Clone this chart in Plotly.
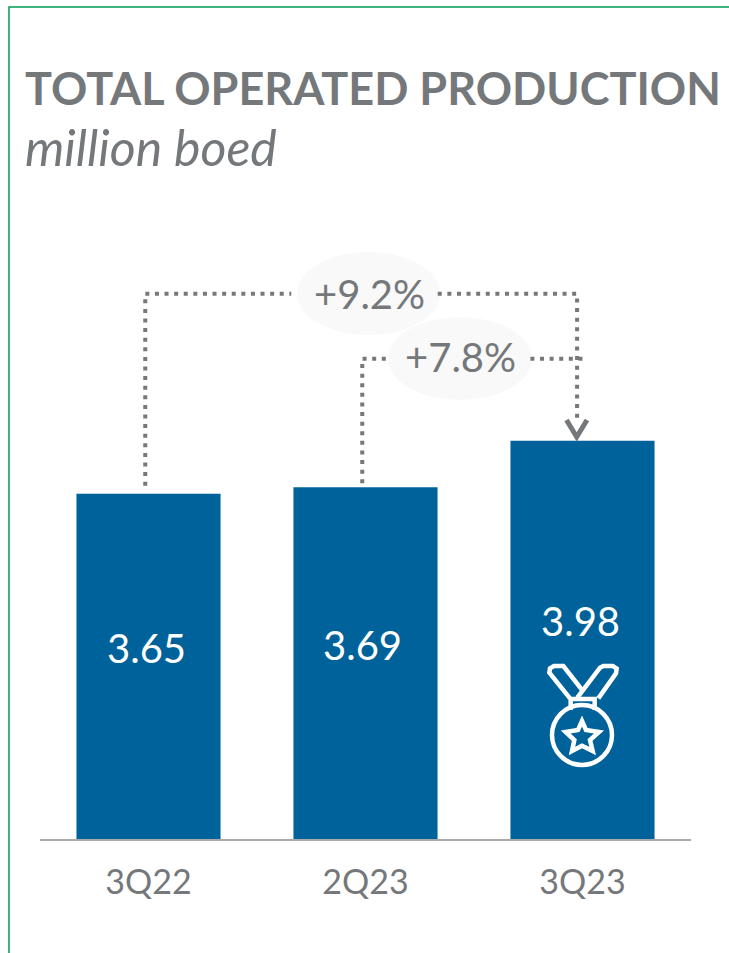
import plotly.graph_objects as go

categories = ["3Q22", "2Q23", "3Q23"]
production = [3.65, 3.69, 3.98]
value_labels = ["3.65", "3.69", "3.98"]
change_labels = ["+9.2%", "+7.8%"]
title_text = "TOTAL OPERATED PRODUCTION"
subtitle_text = "million boed"

W, H = 729, 953
L, R, T, B = 40, 38, 200, 114
PW, PH = W - L - R, H - T - B
Y0, YSCALE = 1.5, 160.6
GREY = "#75787b"
BLUE = "#00629a"
FONT = "Lato"


def fx(p):
    return (p - L) / PW


def fy(p):
    return (H - B - p) / PH


def path(points, close=False):
    s = "M " + " L ".join(f"{fx(x):.5f},{fy(y):.5f}" for x, y in points)
    return s + (" Z" if close else "")


def ellipse(x0, x1, y0, y1):
    return dict(type="circle", xref="paper", yref="paper", x0=fx(x0), x1=fx(x1), y0=fy(y1), y1=fy(y0),
                fillcolor="#f9f9f9", line_width=0, layer="below")


def zoomed(x, y):
    return (520 + x / 3, 600 + y / 3)


fig = go.Figure()
fig.add_bar(x=[0, 1, 2], y=production, width=0.664, marker_color=BLUE, marker_line_width=0, showlegend=False)

# connector levels in chart units
level_a, level_b = 4.895, 4.49
off = -0.015
segments = [
    ([0 + off, 0 + off, 0.658], [3.70, level_a, level_a]),
    ([1.333, 2 + off - 0.01, 2 + off - 0.01], [level_a, level_a, 4.11]),
    ([1 + off, 1 + off, 1.102], [3.715, level_b, level_b]),
    ([1.76, 2.012], [level_b, level_b]),
]
for xs, ys in segments:
    fig.add_scatter(x=xs, y=ys, mode="lines", showlegend=False,
                    line=dict(color=GREY, width=4, dash="4px,5.6px"))

shapes = [
    ellipse(297, 440, 252, 335),
    ellipse(388, 532, 317, 400),
    # frame
    dict(type="path", xref="paper", yref="paper", path=path([(9, H), (9, 7), (W, 7)]),
         line=dict(color="#009a50", width=1.5)),
    # arrow head
    dict(type="path", xref="paper", yref="paper", path=path([(566.5, 420), (576.7, 437), (587, 420)]),
         line=dict(color=GREY, width=5)),
]

# medal icon
white = dict(color="white", width=4.5)
cx, cy = zoomed(186, 405)
r = 30
shapes.append(dict(type="circle", xref="paper", yref="paper", x0=fx(cx - r), x1=fx(cx + r), y0=fy(cy + r), y1=fy(cy - r), line=white))
ribbon = [(150, 295), (88, 218), (90, 205), (102, 198), (130, 198), (185, 268)]
ribbon2 = [(172, 293), (240, 203), (250, 198), (278, 198), (290, 206), (288, 220), (235, 295)]
buckle = [(152, 330), (152, 297), (224, 297), (224, 330)]
star = [(186, 363), (198, 390), (237, 396), (210, 420), (218, 453), (186, 437), (156, 453), (163, 420), (137, 396), (174, 390)]
for pts, closed in [(ribbon, False), (ribbon2, False), (buckle, False), (star, True)]:
    shapes.append(dict(type="path", xref="paper", yref="paper",
                       path=path([zoomed(*p) for p in pts], closed), line=white))

ann = []


def text(s, x, y, size, color=GREY, xanchor="center", **kw):
    ann.append(dict(text=s, xref="paper", yref="paper", x=fx(x), y=fy(y), xanchor=xanchor, yanchor="middle",
                    showarrow=False, font=dict(family=FONT, size=size, color=color, **kw), xshift=0))


text(f"<b>{title_text}</b>", 23, 88, 45, xanchor="left")
text(f"<i>{subtitle_text}</i>", 23, 147, 50, xanchor="left")
text(change_labels[0], 369, 294, 40)
text(change_labels[1], 460, 357, 40)
for label, x, y in zip(value_labels, [146, 362, 580], [648, 645, 621]):
    text(label, x, y, 40, color="white")

fig.update_layout(
    width=W, height=H, margin=dict(l=L, r=R, t=T, b=B, pad=0, autoexpand=False),
    paper_bgcolor="white", plot_bgcolor="white", shapes=shapes, annotations=ann, showlegend=False,
    xaxis=dict(range=[-0.5, 2.5], tickmode="array", tickvals=[0, 1, 2], ticktext=categories,
               showgrid=False, zeroline=False, showline=True, linecolor="#aaaaaa", linewidth=2,
               ticks="outside", ticklen=12, tickcolor="rgba(0,0,0,0)",
               tickfont=dict(family=FONT, size=34, color=GREY)),
    yaxis=dict(range=[Y0, Y0 + PH / YSCALE], visible=False, showgrid=False, zeroline=False),
)
fig.write_html("out.html", config=dict(displayModeBar=False),
               post_script="document.body.style.margin='0';document.documentElement.style.overflow='hidden';")
